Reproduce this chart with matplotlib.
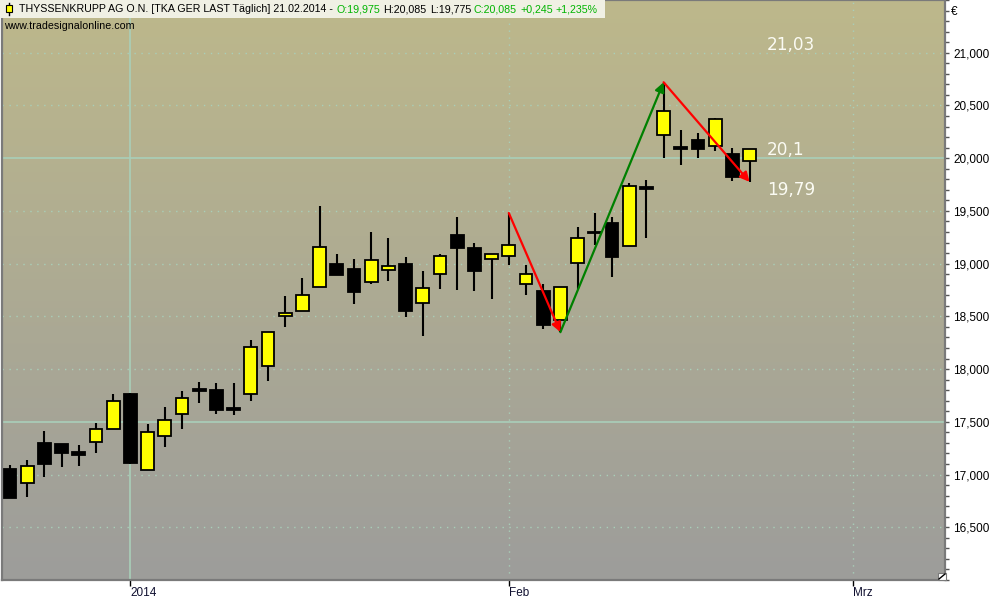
import numpy as np
import matplotlib
matplotlib.use("Agg")
import matplotlib.pyplot as plt
from matplotlib.patches import Rectangle
from matplotlib.lines import Line2D
from matplotlib.ticker import FixedLocator, MultipleLocator, FuncFormatter

plt.rcParams["font.family"] = ["Liberation Sans", "DejaVu Sans"]

# daily candles, 17.12.2013 .. 21.02.2014 (bar index = position)
opens = [17.05, 16.92, 17.30, 17.29, 17.21, 17.31, 17.43, 17.76, 17.04, 17.37,
         17.57, 17.81, 17.80, 17.63, 17.76, 18.03, 18.50, 18.55, 18.78, 19.00,
         18.95, 18.83, 18.94, 19.00, 18.63, 18.90, 19.27, 19.15, 19.04, 19.07,
         18.81, 18.74, 18.47, 19.01, 19.30, 19.39, 19.17, 19.72, 20.22, 20.10,
         20.17, 20.12, 20.04, 19.975]
highs = [17.09, 17.14, 17.41, 17.29, 17.28, 17.49, 17.76, 17.77, 17.48, 17.64,
         17.79, 17.88, 17.87, 17.87, 18.28, 18.35, 18.69, 18.86, 19.55, 19.09,
         19.04, 19.30, 19.24, 19.06, 18.93, 19.09, 19.44, 19.20, 19.09, 19.48,
         18.99, 18.81, 18.78, 19.35, 19.48, 19.44, 19.76, 19.79, 20.72, 20.27,
         20.24, 20.38, 20.10, 20.085]
lows = [16.78, 16.79, 16.98, 17.07, 17.08, 17.20, 17.43, 17.10, 17.04, 17.26,
        17.43, 17.68, 17.57, 17.56, 17.70, 17.89, 18.40, 18.55, 18.78, 18.89,
        18.62, 18.81, 18.84, 18.49, 18.31, 18.76, 18.75, 18.74, 18.66, 18.99,
        18.70, 18.38, 18.35, 18.76, 19.18, 18.87, 19.17, 19.24, 20.00, 19.94,
        20.00, 20.07, 19.78, 19.775]
closes = [16.78, 17.08, 17.10, 17.20, 17.19, 17.43, 17.70, 17.11, 17.40, 17.52,
          17.73, 17.79, 17.61, 17.61, 18.21, 18.35, 18.53, 18.70, 19.16, 18.89,
          18.73, 19.03, 18.98, 18.55, 18.77, 19.07, 19.15, 18.93, 19.09, 19.18,
          18.90, 18.42, 18.78, 19.24, 19.29, 19.06, 19.74, 19.71, 20.45, 20.09,
          20.09, 20.37, 19.82, 20.085]

# month ticks (bar index of first trading day)
month_ticks = [7, 29, 49]
month_labels = ["2014", "Feb", "Mrz"]

# trend arrows: (from bar, from price kind, to bar, to price kind, colour)
swings = [(29, "high", 32, "low", "#ff0000"),
          (32, "low", 38, "high", "#008000"),
          (38, "high", 43, "low", "#ff0000")]

# projection labels
level_values = [21.07, 20.08, 19.70]
level_texts = ["21,03", "20,1", "19,79"]

title_parts = [("THYSSENKRUPP AG O.N. [TKA GER LAST Täglich] 21.02.2014 -", "black"),
               ("O:19,975", "#00b400"), ("H:20,085", "black"), ("L:19,775", "black"),
               ("C:20,085", "#00b400"), ("+0,245", "#00b400"), ("+1,235%", "#00b400")]

W, H = 1000, 600
fig = plt.figure(figsize=(W / 100, H / 100), dpi=100, facecolor="white")
ax = fig.add_axes([2 / W, 20 / H, 943 / W, 580 / H])

x_lo, x_hi = -0.465, 54.36
y_lo, y_hi = 16.0, 21.5
ax.set_xlim(x_lo, x_hi)
ax.set_ylim(y_lo, y_hi)

# khaki -> grey background gradient
top = np.array([189, 184, 139]) / 255
bot = np.array([157, 157, 155]) / 255
t = np.linspace(0, 1, 256)[:, None, None]
grad = top * (1 - t) + bot * t
ax.imshow(grad, extent=[x_lo, x_hi, y_lo, y_hi], aspect="auto", zorder=0,
          origin="upper", interpolation="bilinear")

grid_col = "#a9cfb9"
for lvl in np.arange(16.0, 21.01, 0.5):
    if lvl in (17.5, 20.0):
        ax.axhline(lvl, color=grid_col, lw=1.2, zorder=1)
    else:
        ax.axhline(lvl, color=grid_col, lw=1.0, ls=(0, (1, 4)), zorder=1)
for xi, lab in zip(month_ticks, month_labels):
    if lab == "2014":
        ax.axvline(xi, color=grid_col, lw=1.2, zorder=1)
    else:
        ax.axvline(xi, color=grid_col, lw=1.0, ls=(0, (1, 4)), zorder=1)

# candles
idx = np.arange(len(opens))
o = np.array(opens)
c = np.array(closes)
ax.vlines(idx, lows, highs, color="black", lw=1.5, zorder=2)
body_lo = np.minimum(o, c)
body_h = np.maximum(np.abs(c - o), 0.012)
colors = ["#ffff00" if cc >= oo else "black" for oo, cc in zip(o, c)]
ax.bar(idx, body_h, bottom=body_lo, width=0.74, color=colors,
       edgecolor="black", linewidth=1.3, zorder=3)

# swing arrows
price = {"high": highs, "low": lows}
for a, ka, b, kb, col in swings:
    ax.annotate("", xy=(b, price[kb][b]), xytext=(a, price[ka][a]),
                arrowprops=dict(arrowstyle="-|>", color=col, lw=1.6,
                                mutation_scale=14, shrinkA=0, shrinkB=0),
                zorder=4)

for v, s in zip(level_values, level_texts):
    ax.text(44.0, v, s, color="#fbfbf3", fontsize=12.2, ha="left", va="center",
            family=["DejaVu Sans"], zorder=5)

# axes styling
for side in ("left", "bottom", "right", "top"):
    ax.spines[side].set_color("#7a7a7a")
    ax.spines[side].set_linewidth(1.6)

ax.yaxis.tick_right()
ax.yaxis.set_major_locator(MultipleLocator(0.5))
ax.yaxis.set_minor_locator(MultipleLocator(0.1))
ax.yaxis.set_major_formatter(FuncFormatter(lambda v, p: f"{v:.3f}".replace(".", ",")
                                           if 16.1 < v < 21.4 else ""))
ax.tick_params(axis="y", which="both", direction="out", length=3, width=1,
               color="#555555", pad=3, labelsize=8.5, labelcolor="black")

ax.xaxis.set_major_locator(FixedLocator(month_ticks))
ax.set_xticklabels(month_labels)
ax.tick_params(axis="x", direction="out", length=4, width=1, color="black",
               pad=1, labelsize=8.5, labelcolor="#101030")
for lab in ax.get_xticklabels():
    lab.set_horizontalalignment("left")

fig.text(951 / W, 1 - 12 / H, "€", fontsize=8.5, ha="left", va="center")

# header bar
fig.patches.append(Rectangle((0, 1 - 18 / H), 605 / W, 18 / H, transform=fig.transFigure,
                             facecolor="#f0f0e4", edgecolor="none", zorder=6))
fig.lines.append(Line2D([9 / W, 9 / W], [1 - 15 / H, 1 - 3 / H], transform=fig.transFigure,
                        color="black", lw=1, zorder=7))
fig.patches.append(Rectangle((6 / W, 1 - 12 / H), 6 / W, 7 / H, transform=fig.transFigure,
                             facecolor="#ffff00", edgecolor="black", lw=0.8, zorder=8))

# header text, pieces placed one after another
renderer = fig.canvas.get_renderer()
x_px = 19
for i, (txt, col) in enumerate(title_parts):
    tt = fig.text(x_px / W, 1 - 9 / H, txt, color=col, fontsize=7.7,
                  ha="left", va="center", zorder=9)
    x_px += tt.get_window_extent(renderer).width + (4 if i == 0 else 3)
fig.text(4 / W, 1 - 26 / H, "www.tradesignalonline.com", fontsize=7.7, ha="left",
         va="center", color="black", zorder=9)

# resize grip in the corner
fig.patches.append(Rectangle((938 / W, 20 / H), 8 / W, 7 / H, transform=fig.transFigure,
                             facecolor="white", edgecolor="#7a7a7a", lw=0.8, zorder=9))
fig.lines.append(Line2D([939 / W, 945 / W], [21 / H, 26 / H], transform=fig.transFigure,
                        color="black", lw=1, zorder=10))

fig.savefig("out.png", dpi=100, facecolor="white")
